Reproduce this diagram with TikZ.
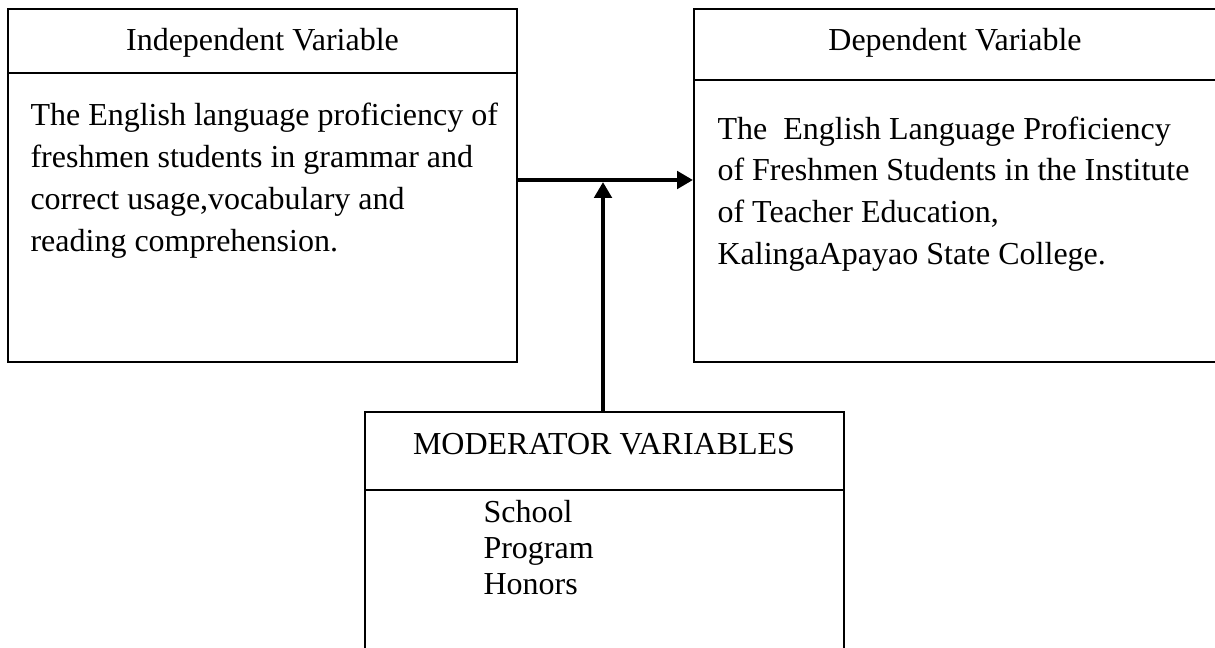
\documentclass[tikz,border=0pt]{standalone}
\usepackage{fontspec}
\setmainfont{Liberation Serif}
\usetikzlibrary{fit,arrows.meta}
\begin{document}
\begin{tikzpicture}[x=0.375pt,y=-0.375pt,
  box/.style={draw,line width=0.75pt,inner sep=0pt},
  rule/.style={line width=0.75pt},
  txt/.style={inner sep=0pt,align=left,font=\fontsize{12}{15.75}\selectfont},
  hdr/.style={inner sep=0pt,font=\fontsize{12}{14}\selectfont},
  arr/.style={line width=1.5pt,-{Triangle[length=6pt,width=6.5pt]}}]
\clip (0,0) rectangle (1215,648);
\fill[white] (0,0) rectangle (1215,648);
% boxes
\node[box,fit={(8,9) (517,362)}] (iv) {};
\node[box,fit={(694,9) (1225,362)}] (dv) {};
\node[box,fit={(365,412) (844,670)}] (mv) {};
\coordinate (ivsep) at (8,73);
\coordinate (dvsep) at (694,80);
\coordinate (mvsep) at (365,490);
\draw[rule] (ivsep) -- (ivsep -| iv.east);
\draw[rule] (dvsep) -- (dvsep -| dv.east);
\draw[rule] (mvsep) -- (mvsep -| mv.east);
% headers
\node[hdr,anchor=base] (ivh) at (262.5,51) {Independent Variable};
\node[hdr,anchor=base] (dvh) at (955,51) {Dependent Variable};
\node[hdr,anchor=base] (mvh) at (604,454) {MODERATOR VARIABLES};
% bodies (base anchor = last line)
\node[txt,anchor=base west] (ivt) at (30,252) {The English language proficiency of\\freshmen students in grammar and\\correct usage,vocabulary and\\reading comprehension.};
\node[txt,anchor=base west] (dvt) at (717,265) {The\ \ English Language Proficiency\\of Freshmen Students in the Institute\\of Teacher Education,\\KalingaApayao State College.};
\node[txt,anchor=base west,font=\fontsize{12}{13.5}\selectfont] (mvt) at (483,594) {School\\Program\\Honors};
% arrows
\coordinate (hy) at (0,180);
\draw[arr] (iv.east |- hy) -- (dv.west |- hy);
\draw[arr,shorten >=0.75pt] (mv.north -| 603,0) -- (603,180);
\end{tikzpicture}
\end{document}
